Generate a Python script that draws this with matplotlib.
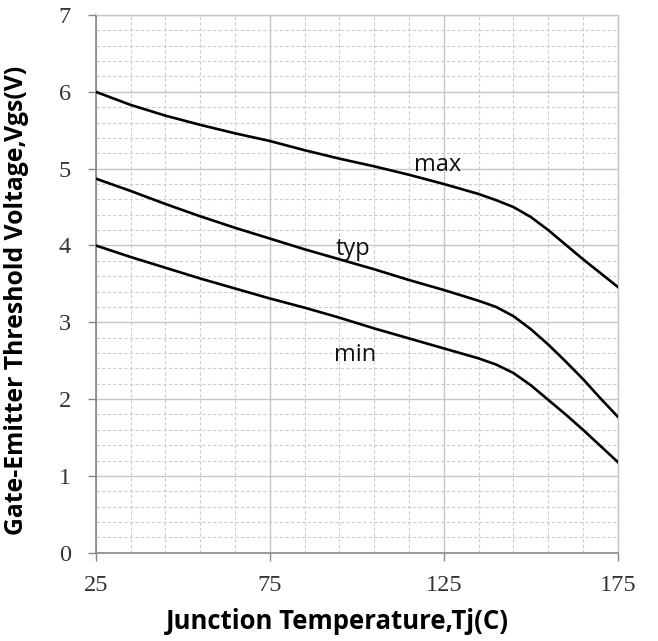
import matplotlib
matplotlib.use("Agg")
import matplotlib.pyplot as plt
from matplotlib.ticker import MultipleLocator, FixedLocator

# Data
temp_max = [25, 35, 45, 55, 65, 75, 85, 95, 105, 115, 125, 135, 140, 145, 150, 155, 160, 165, 170, 175]
v_max = [6.00, 5.83, 5.69, 5.57, 5.46, 5.36, 5.24, 5.13, 5.03, 4.92, 4.80, 4.67, 4.59, 4.50, 4.37, 4.20, 4.01, 3.82, 3.64, 3.46]

temp_typ = [25, 35, 45, 55, 65, 75, 85, 95, 105, 115, 125, 135, 140, 145, 150, 155, 160, 165, 170, 175]
v_typ = [4.87, 4.71, 4.54, 4.38, 4.23, 4.09, 3.95, 3.82, 3.69, 3.55, 3.42, 3.28, 3.20, 3.08, 2.91, 2.71, 2.49, 2.26, 2.01, 1.77]

temp_min = [25, 35, 45, 55, 65, 75, 85, 95, 105, 115, 125, 135, 140, 145, 150, 155, 160, 165, 170, 175]
v_min = [4.00, 3.85, 3.71, 3.57, 3.44, 3.31, 3.19, 3.06, 2.92, 2.79, 2.66, 2.53, 2.45, 2.34, 2.18, 1.99, 1.80, 1.60, 1.39, 1.18]

series_labels = ["max", "typ", "min"]
label_pos = [(123.3, 5.05), (99.0, 3.96), (99.5, 2.57)]

x_ticks = [25, 75, 125, 175]
y_ticks = [0, 1, 2, 3, 4, 5, 6, 7]

fig = plt.figure(figsize=(6.58, 6.41), dpi=100)
ax = fig.add_axes([0.1455, 0.1377, 0.939 - 0.1455, 0.9766 - 0.1377])

for t, v in [(temp_max, v_max), (temp_typ, v_typ), (temp_min, v_min)]:
    ax.plot(t, v, color="black", lw=1.9, zorder=3, solid_joinstyle="round")

for lab, (x, y) in zip(series_labels, label_pos):
    ax.text(x, y, lab, ha="center", va="center", fontsize=17, family="Open Sans",
            color="#111111", zorder=4)

ax.set_xlim(25, 175)
ax.set_ylim(0, 7)
ax.xaxis.set_major_locator(FixedLocator(x_ticks))
ax.xaxis.set_minor_locator(MultipleLocator(10, offset=5))
ax.yaxis.set_major_locator(FixedLocator(y_ticks))
ax.yaxis.set_minor_locator(MultipleLocator(0.2))

ax.grid(which="major", color="#c6c6c6", lw=1.0, ls="-", zorder=1)
ax.grid(which="minor", color="#cccccc", lw=0.8, ls=(0, (3, 2)), zorder=0)

ax.tick_params(which="major", direction="out", length=6, width=1, color="#888888")
ax.tick_params(which="minor", length=0)
ax.tick_params(axis="y", pad=12)
ax.tick_params(axis="x", pad=10)
for lab in ax.get_xticklabels() + ax.get_yticklabels():
    lab.set_family("Liberation Serif")
    lab.set_fontsize(17.5)
    lab.set_color("#333333")

for s in ["left", "bottom"]:
    ax.spines[s].set_color("#888888")
    ax.spines[s].set_linewidth(1.2)
for s in ["top", "right"]:
    ax.spines[s].set_color("#c6c6c6")
    ax.spines[s].set_linewidth(1.0)

ax.set_xlabel("Junction Temperature,Tj(C)", fontsize=18.5, fontweight="bold",
              family="Open Sans")
ax.set_ylabel("Gate-Emitter Threshold Voltage,Vgs(V)", fontsize=17.8, fontweight="bold",
              family="Open Sans")
ax.xaxis.set_label_coords(0.462, -0.103)
ax.yaxis.set_label_coords(-0.128, 0.47)

fig.savefig("out.png", dpi=100)
